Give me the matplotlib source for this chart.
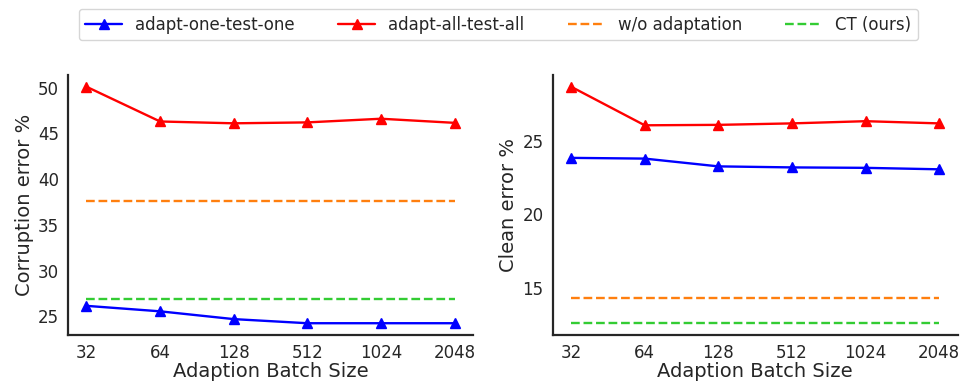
import numpy as np
import matplotlib
matplotlib.use('Agg')
import matplotlib.pyplot as plt
import seaborn as sns

batch_sizes = ['32', '64', '128', '512', '1024', '2048']

corr_one = [26.15, 25.55, 24.7, 24.25, 24.25, 24.25]
corr_all = [50.1, 46.3, 46.1, 46.2, 46.6, 46.15]
corr_wo = 37.6
corr_ct = 26.95

clean_one = [23.85, 23.8, 23.27, 23.2, 23.17, 23.07]
clean_all = [28.7, 26.07, 26.1, 26.2, 26.35, 26.2]
clean_wo = 14.3
clean_ct = 12.58

sns.set_style('white')
plt.rcParams['font.family'] = ['DejaVu Sans']

fig = plt.figure(figsize=(9.62, 3.86), dpi=100)
ax1 = fig.add_axes((0.0707, 0.132, 0.421, 0.674))
ax2 = fig.add_axes((0.5745, 0.132, 0.421, 0.674))

x = np.arange(len(batch_sizes))


def draw_panel(ax, one, all_, wo, ct, ylabel):
    ax.plot(x, one, color='blue', marker='^', markersize=7.5, lw=1.7,
            label='adapt-one-test-one')
    ax.plot(x, all_, color='red', marker='^', markersize=7.5, lw=1.7,
            label='adapt-all-test-all')
    ax.plot(x, [wo] * len(x), '--', color='#ff7f0e', lw=1.7,
            label='w/o adaptation')
    ax.plot(x, [ct] * len(x), '--', color='#33cc33', lw=1.7,
            label='CT (ours)')
    ax.set_xticks(x)
    ax.set_xticklabels(batch_sizes)
    ax.set_xlabel('Adaption Batch Size', fontsize=14, labelpad=0)
    ax.set_ylabel(ylabel, fontsize=14, labelpad=3)
    ax.tick_params(labelsize=12, pad=3)
    for side in ['top', 'right']:
        ax.spines[side].set_visible(False)
    for side in ['left', 'bottom']:
        ax.spines[side].set_color('#262626')
        ax.spines[side].set_linewidth(1.6)


draw_panel(ax1, corr_one, corr_all, corr_wo, corr_ct, 'Corruption error %')
draw_panel(ax2, clean_one, clean_all, clean_wo, clean_ct, 'Clean error %')
ax2.set_yticks([15, 20, 25])

handles, labels = ax1.get_legend_handles_labels()
fig.legend(handles, labels, loc='upper center', bbox_to_anchor=(0.518, 0.998),
           ncol=4, fontsize=12, frameon=True, columnspacing=2.6,
           handlelength=2.2)

fig.savefig('out.png', dpi=100)
